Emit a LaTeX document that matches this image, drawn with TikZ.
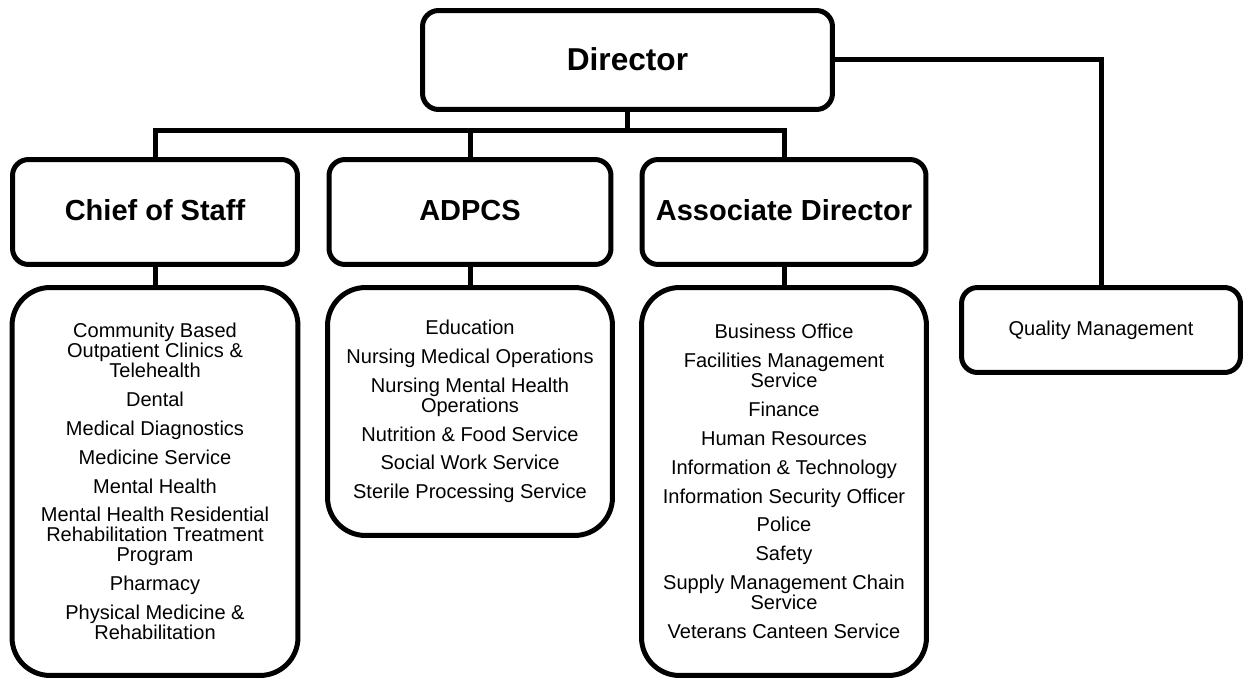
\documentclass[tikz,border=0pt]{standalone}
\usepackage{fontspec}
\setmainfont{Liberation Sans}
\tikzstyle{office} = [
  rectangle, draw=black, line width=0.1cm,
  rounded corners=0.32cm, align=center, inner sep=0pt,
  text height=12pt, text depth=1.8pt,
  font=\fontsize{16.5}{20}\selectfont\bfseries
]
\tikzstyle{units} = [
  rectangle, draw=black, line width=0.1cm,
  rounded corners=0.76cm, align=center, inner sep=0pt,
  font=\fontsize{11.4}{11.4}\selectfont
]
\tikzstyle{link} = [line width=0.1cm]

\begin{document}
\begin{tikzpicture}[x=0.02cm, y=-0.02cm]
  \useasboundingbox (0,0) rectangle (1244,679);

  % Top office
  \node[office, minimum width=8.2cm, minimum height=1.98cm, text height=13pt, text depth=0.5pt,
        font=\fontsize{18}{22}\selectfont\bfseries] (director) at (627.5,60) {Director};

  % Second row
  \node[office, minimum width=5.7cm, minimum height=2.1cm] (cos) at (155,212) {Chief of Staff};
  \node[office, minimum width=5.64cm, minimum height=2.1cm] (adpcs) at (470,212) {ADPCS};
  \node[office, minimum width=5.68cm, minimum height=2.1cm] (assoc) at (784,212) {Associate Director};

  % Services under each office
  \node[units, minimum width=5.72cm, minimum height=7.76cm] (cosunits) at (155,481.5) {
    Community Based\\ Outpatient Clinics \&\\ Telehealth\\[5pt]
    Dental\\[5pt]
    Medical Diagnostics\\[5pt]
    Medicine Service\\[5pt]
    Mental Health\\[5pt]
    Mental Health Residential\\ Rehabilitation Treatment\\ Program\\[5pt]
    Pharmacy\\[5pt]
    Physical Medicine \&\\ Rehabilitation
  };
  \node[units, minimum width=5.7cm, minimum height=4.96cm] (adpcsunits) at (470,411.5) {
    Education\\[5pt]
    Nursing Medical Operations\\[5pt]
    Nursing Mental Health\\ Operations\\[5pt]
    Nutrition \& Food Service\\[5pt]
    Social Work Service\\[5pt]
    Sterile Processing Service
  };
  \node[units, minimum width=5.7cm, minimum height=7.76cm] (assocunits) at (784,481.5) {
    Business Office\\[5pt]
    Facilities Management\\ Service\\[5pt]
    Finance\\[5pt]
    Human Resources\\[5pt]
    Information \& Technology\\[5pt]
    Information Security Officer\\[5pt]
    Police\\[5pt]
    Safety\\[5pt]
    Supply Management Chain\\ Service\\[5pt]
    Veterans Canteen Service
  };

  % Staff office on the right
  \node[units, rounded corners=0.32cm, minimum width=5.58cm, minimum height=1.7cm] (quality) at (1101,330) {Quality Management};

  % Lines
  \draw[link] (director.south) -- ++(0,19) -| (cos.north);
  \draw[link] (director.south) -- ++(0,19) -| (adpcs.north);
  \draw[link] (director.south) -- ++(0,19) -| (assoc.north);
  \draw[link] (director.east) -| (quality.north);
  \draw[link] (cos) -- (cosunits);
  \draw[link] (adpcs) -- (adpcsunits);
  \draw[link] (assoc) -- (assocunits);

\end{tikzpicture}
\end{document}
